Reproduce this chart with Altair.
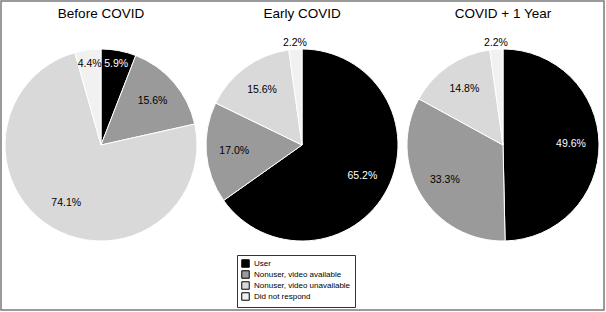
import altair as alt
import pandas as pd

periods = ["Before COVID", "Early COVID", "COVID + 1 Year"]
categories = ["User", "Nonuser, video available", "Nonuser, video unavailable", "Did not respond"]
before_covid = [5.9, 15.6, 74.1, 4.4]
early_covid = [65.2, 17.0, 15.6, 2.2]
covid_plus_1 = [49.6, 33.3, 14.8, 2.2]
colors = ["#000000", "#9a9a9a", "#d9d9d9", "#f1f1f1"]

rows = []
for p, vals in zip(periods, [before_covid, early_covid, covid_plus_1]):
    for i, (c, v) in enumerate(zip(categories, vals)):
        rows.append({"period": p, "category": c, "value": v, "idx": i,
                     "label": f"{v:.1f}%"})
df = pd.DataFrame(rows)
titles_df = pd.DataFrame({"period": periods})

FONT = "Liberation Sans"

xenc = alt.X("period:N", scale=alt.Scale(type="point", domain=periods, range=[100, 502], padding=0), axis=None)

base = alt.Chart(df).transform_joinaggregate(
    total="sum(value)", groupby=["period"]
).transform_window(
    cum="sum(value)", sort=[{"field": "idx"}], groupby=["period"], frame=[None, 0]
).transform_calculate(
    t0="(datum.cum - datum.value) / datum.total * 2 * PI",
    t1="datum.cum / datum.total * 2 * PI",
).transform_calculate(
    tm="(datum.t0 + datum.t1) / 2",
    r="datum.value < 3 ? 102 : (datum.value < 8 ? 82 : 68)",
)

arcs = base.mark_arc(outerRadius=96, stroke="white", strokeWidth=1).encode(
    x=xenc,
    y=alt.value(144),
    theta=alt.Theta("t0:Q", scale=None),
    theta2="t1:Q",
    color=alt.Color("category:N", scale=alt.Scale(domain=categories, range=colors),
                    legend=alt.Legend(orient="none", legendX=236, legendY=254, title=None,
                                      symbolType="square", symbolSize=56,
                                      symbolStrokeColor="black", symbolStrokeWidth=1,
                                      labelFontSize=8, labelFont=FONT, labelColor="black",
                                      strokeColor="#333333", padding=4, rowPadding=-2,
                                      fillColor="white", labelLimit=200)),
)

labels = base.mark_text(font=FONT, fontSize=10.5).encode(
    x=xenc,
    y=alt.value(144),
    theta=alt.Theta("tm:Q", scale=None),
    radius=alt.Radius("r:Q", scale=None),
    text="label:N",
    color=alt.condition(alt.datum.category == "User", alt.value("white"), alt.value("black")),
)

titles = alt.Chart(titles_df).mark_text(font=FONT, fontSize=13.5, color="black").encode(
    x=xenc,
    y=alt.value(13),
    text="period:N",
)

chart = alt.layer(arcs, labels, titles).properties(
    width=603, height=309,
    autosize=alt.AutoSizeParams(type="none"),
    padding={"left": 1, "top": 1, "right": 1, "bottom": 1},
).configure_view(stroke="#7a7a7a", strokeWidth=1.5)

chart.save("out.html", embed_options={"renderer": "svg", "actions": False})
